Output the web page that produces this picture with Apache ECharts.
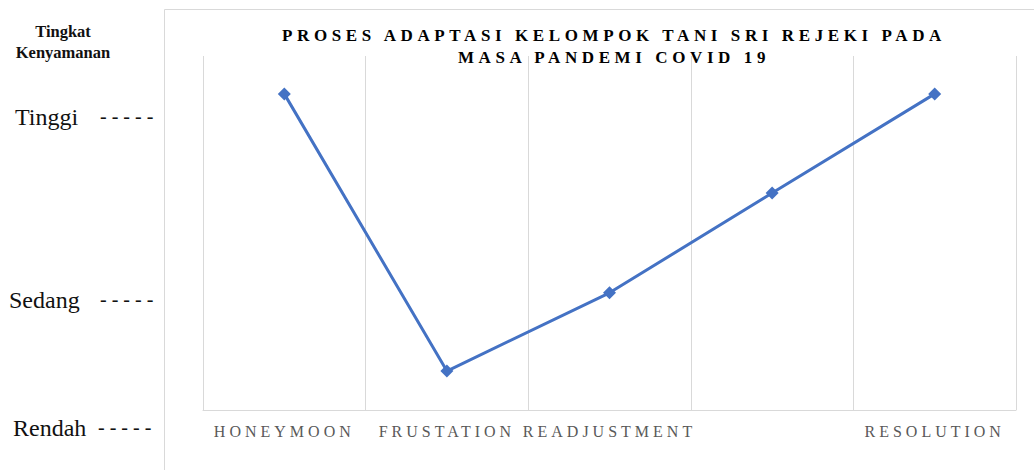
<!DOCTYPE html>
<html>
<head>
<meta charset="utf-8">
<script src="https://cdn.jsdelivr.net/npm/echarts@6/dist/echarts.min.js"></script>
<style>
  html, body { margin: 0; padding: 0; background: #fff; }
  #chart { width: 1034px; height: 470px; }
  #chart svg text[fill="#010101"] { letter-spacing: 4.6px; }
  #chart svg text[fill="#595959"] { letter-spacing: 4px; }
</style>
</head>
<body>
<div id="chart"></div>
<script>
const titleLines = ['PROSES ADAPTASI KELOMPOK TANI SRI REJEKI PADA', 'MASA PANDEMI COVID 19'];
const yAxisTitle = ['Tingkat', 'Kenyamanan'];
const categories = ['HONEYMOON', 'FRUSTATION', 'READJUSTMENT', '', 'RESOLUTION'];
const comfortValues = [8.93, 1.1, 3.31, 6.13, 8.93];
const levelLabels = ['Tinggi', 'Sedang', 'Rendah'];

const SERIF = "'Liberation Serif', 'Times New Roman', serif";
const chart = echarts.init(document.getElementById('chart'), null, { renderer: 'svg' });

const gridTop = 56, gridBottomPx = 410;
const yMin = 0, yMax = 10;

const levelY = [116.5, 299.5, 428];
const levelX = [15, 9, 13];
const graphics = [
  { type: 'rect', silent: true, shape: { x: 164.5, y: 9.5, width: 900, height: 500 },
    style: { fill: 'none', stroke: '#d9d9d9', lineWidth: 1 } }
];
titleLines.forEach((t, i) => {
  graphics.push({ type: 'text', x: 614, y: 35 + i * 22,
    style: { text: t, fill: '#010101', fontFamily: SERIF, fontWeight: 'bold', fontSize: 17,
      align: 'center', verticalAlign: 'middle' } });
});
yAxisTitle.forEach((t, i) => {
  graphics.push({ type: 'text', x: 63, y: 31 + i * 21,
    style: { text: t, fill: '#111111', fontFamily: SERIF, fontWeight: 'bold', fontSize: 16.5,
      align: 'center', verticalAlign: 'middle' } });
});
levelLabels.forEach((t, i) => {
  graphics.push({ type: 'text', x: levelX[i], y: levelY[i],
    style: { text: t, fill: '#111111', fontFamily: SERIF, fontSize: 24,
      align: 'left', verticalAlign: 'middle' } });
  graphics.push({ type: 'text', x: i === 2 ? 98 : 100, y: levelY[i] - 1,
    style: { text: '- - - - -', fill: '#111111', fontFamily: SERIF, fontSize: 20,
      align: 'left', verticalAlign: 'middle' } });
});

chart.setOption({
  animation: false,
  backgroundColor: '#ffffff',
  grid: { left: 203, right: 18, top: gridTop, bottom: 470 - gridBottomPx, outerBoundsMode: 'none' },
  xAxis: {
    type: 'category',
    data: categories,
    boundaryGap: true,
    axisLine: { show: true, lineStyle: { color: '#d9d9d9', width: 1 } },
    axisTick: { show: false },
    splitLine: { show: true, lineStyle: { color: '#d9d9d9', width: 1 } },
    axisLabel: { interval: 0, color: '#595959', fontFamily: SERIF, fontSize: 16,
      margin: 21, verticalAlign: 'middle' }
  },
  yAxis: {
    type: 'value', min: yMin, max: yMax, interval: 1,
    show: false, splitLine: { show: false }
  },
  series: [{
    type: 'line',
    data: comfortValues,
    symbol: 'diamond',
    symbolSize: 13,
    lineStyle: { color: '#4472C4', width: 3 },
    itemStyle: { color: '#4472C4' },
    z: 5
  }],
  graphic: graphics
});
</script>
</body>
</html>
